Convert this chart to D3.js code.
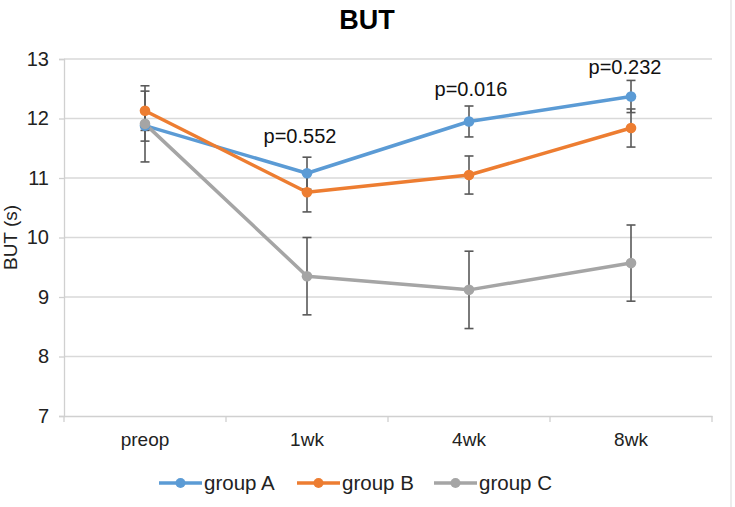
<!DOCTYPE html>
<html><head><meta charset="utf-8">
<script src="https://cdn.jsdelivr.net/npm/d3@7"></script>
<style>body{margin:0;background:#fff}svg{display:block;font-family:"Liberation Sans",Arial,sans-serif}</style>
</head><body><svg id="c" width="735" height="507"></svg>
<script>
const categories = ["preop", "1wk", "4wk", "8wk"];
const seriesNames = ["group A", "group B", "group C"];
const groupA = [11.88, 11.08, 11.95, 12.37];
const groupB = [12.13, 10.76, 11.05, 11.84];
const groupC = [11.91, 9.35, 9.12, 9.57];
const errA = [0.26, 0.27, 0.26, 0.27];
const errB = [0.33, 0.33, 0.32, 0.32];
const errC = [0.64, 0.65, 0.65, 0.64];
const pLabels = ["", "p=0.552", "p=0.016", "p=0.232"];
const pLabelLevel = [null, 11.59, 12.37, 12.75];
const yTicks = [7, 8, 9, 10, 11, 12, 13];
const colors = ["#5B9BD5", "#ED7D31", "#A5A5A5"];

const FONT = "Liberation Sans, Arial, sans-serif";
const svg = d3.select("#c");
const L = 64, R = 712, T = 59, B = 416;
const x = d3.scaleBand().domain(categories).range([L, R]);
const y = d3.scaleLinear().domain([7, 13]).range([B, T]);

// border
svg.append("line").attr("x1", 731).attr("x2", 731).attr("y1", 0).attr("y2", 507).attr("stroke", "#d9d9d9");

// gridlines
svg.append("g").selectAll("line").data(yTicks.slice(1)).join("line")
  .attr("x1", L).attr("x2", R).attr("y1", d => y(d)).attr("y2", d => y(d))
  .attr("stroke", "#d9d9d9").attr("stroke-width", 1.3);

// y axis
const ya = svg.append("g").attr("transform", `translate(${L},0)`)
  .call(d3.axisLeft(y).tickValues(yTicks).tickSize(5).tickPadding(10).tickFormat(d3.format("d")));
ya.select(".domain").attr("stroke", "#d0d0d0").attr("stroke-width", 1.3);
ya.selectAll(".tick line").attr("stroke", "#d0d0d0").attr("stroke-width", 1.3);
ya.selectAll("text").attr("font-size", 20).attr("fill", "#222").attr("font-family", FONT);

// x axis
const xa = svg.append("g").attr("transform", `translate(0,${B})`)
  .call(d3.axisBottom(x).tickSize(0).tickPadding(17));
xa.select(".domain").attr("stroke", "#d0d0d0").attr("stroke-width", 1.3);
xa.selectAll("text").attr("font-size", 19).attr("fill", "#222").attr("font-family", FONT);
const bounds = categories.map(c => x(c)).concat([x(categories[categories.length - 1]) + x.bandwidth()]);
svg.append("g").selectAll("line").data(bounds).join("line")
  .attr("x1", d => d).attr("x2", d => d).attr("y1", B).attr("y2", B + 6)
  .attr("stroke", "#d0d0d0").attr("stroke-width", 1.3);

const series = [groupA, groupB, groupC].map((vals, i) => ({
  name: seriesNames[i], color: colors[i],
  pts: vals.map((v, j) => ({ c: categories[j], v, e: [errA, errB, errC][i][j] }))
}));
const cx = c => x(c) + x.bandwidth() / 2;
const line = d3.line().x(d => cx(d.c)).y(d => y(d.v));

series.forEach(s => {
  svg.append("path").datum(s.pts).attr("d", line).attr("fill", "none")
    .attr("stroke", s.color).attr("stroke-width", 3.5).attr("stroke-linejoin", "round");
});
// error bars
series.forEach(s => {
  const g = svg.append("g").attr("stroke", "#595959").attr("stroke-width", 1.6);
  s.pts.forEach(d => {
    const X = cx(d.c);
    g.append("line").attr("x1", X).attr("x2", X).attr("y1", y(d.v - d.e)).attr("y2", y(d.v + d.e));
    [d.v - d.e, d.v + d.e].forEach(v => g.append("line").attr("x1", X - 4.5).attr("x2", X + 4.5).attr("y1", y(v)).attr("y2", y(v)));
  });
});
series.forEach(s => {
  svg.append("g").selectAll("circle").data(s.pts).join("circle")
    .attr("cx", d => cx(d.c)).attr("cy", d => y(d.v)).attr("r", 5.3).attr("fill", s.color);
});

// p labels
const pDx = [0, -7, 2, -6];
svg.append("g").selectAll("text").data(categories.filter((d, i) => pLabels[i])).join("text")
  .attr("x", d => cx(d) + pDx[categories.indexOf(d)])
  .attr("y", d => y(pLabelLevel[categories.indexOf(d)]))
  .attr("text-anchor", "middle").attr("font-size", 20).attr("fill", "#111")
  .text(d => pLabels[categories.indexOf(d)]);

// title
svg.append("text").attr("x", 367).attr("y", 29).attr("text-anchor", "middle")
  .attr("font-size", 27).attr("font-weight", "bold").attr("fill", "#000").text("BUT");

// y label
svg.append("text").attr("transform", `translate(17,${(T + B) / 2}) rotate(-90)`)
  .attr("text-anchor", "middle").attr("font-size", 19).attr("fill", "#222").text("BUT (s)");

// legend
const legX = [159, 297, 434];
const lg = svg.append("g");
series.forEach((s, i) => {
  const g = lg.append("g").attr("transform", `translate(${legX[i]},483)`);
  g.append("line").attr("x1", 0).attr("x2", 43).attr("stroke", s.color).attr("stroke-width", 3.5);
  g.append("circle").attr("cx", 21.5).attr("r", 5).attr("fill", s.color);
  g.append("text").attr("x", 45).attr("y", 7).attr("font-size", 20.5).attr("fill", "#222").text(s.name);
});
</script></body></html>
